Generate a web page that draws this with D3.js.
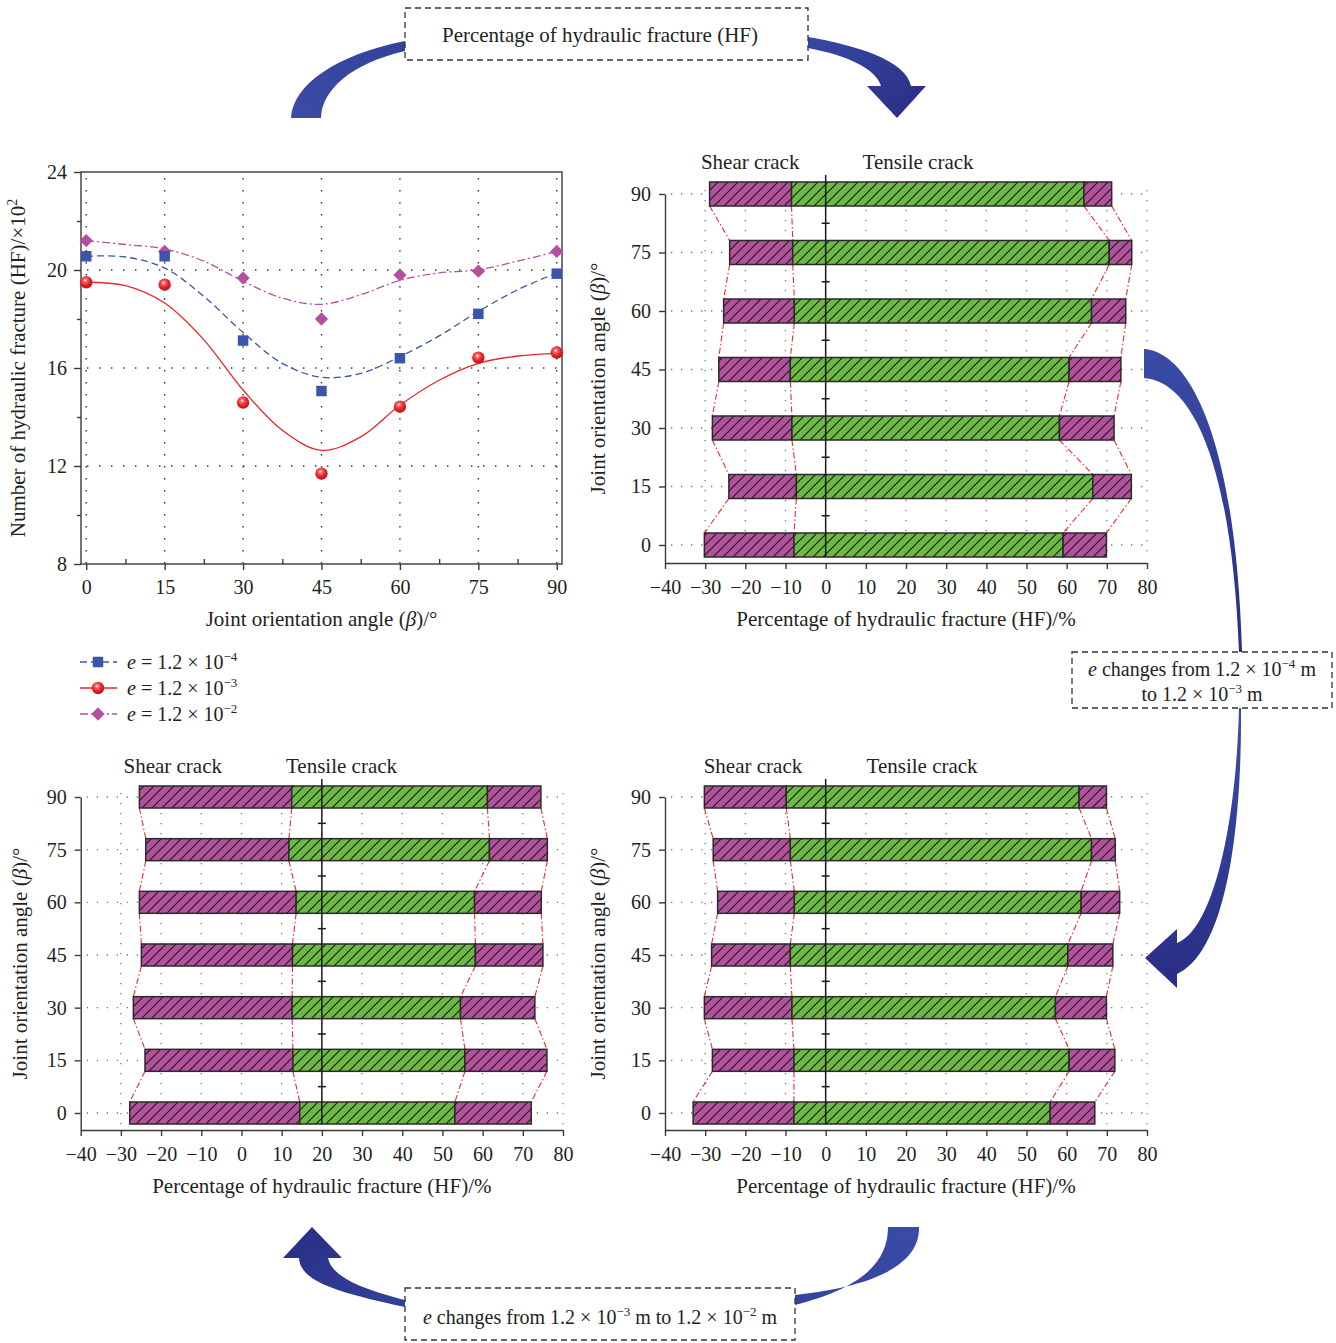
<!DOCTYPE html>
<html><head><meta charset="utf-8">
<script src="https://cdn.jsdelivr.net/npm/d3@7"></script>
<style>
body{margin:0;background:#fff}
svg{display:block}
text{font-family:"Liberation Serif","Times New Roman",serif;fill:#231f20}
</style>
</head><body>
<svg id="c" width="1336" height="1343"></svg>
<script>
// ---------------- DATA ----------------
const angles = [0, 15, 30, 45, 60, 75, 90];
const minorAngles = [7.5, 22.5, 37.5, 52.5, 67.5, 82.5];
const hfTicks = [8, 12, 16, 20, 24];
const hfMinorTicks = [10, 14, 18, 22];

// number of hydraulic fractures (x10^2), measured points
const hf_e4 = [20.56, 20.56, 17.12, 15.06, 16.40, 18.21, 19.85];
const hf_e3 = [19.50, 19.40, 14.59, 11.69, 14.42, 16.42, 16.63];
const hf_e2 = [21.20, 20.76, 19.67, 18.00, 19.80, 19.95, 20.76];

// fitted curves
const fitAngles = [0, 7.5, 15, 22.5, 30, 37.5, 45, 52.5, 60, 67.5, 75, 82.5, 90];
const fit_e4 = [20.56, 20.53, 20.08, 18.92, 17.45, 16.19, 15.62, 15.78, 16.46, 17.31, 18.31, 19.19, 19.88];
const fit_e3 = [19.50, 19.36, 18.65, 17.15, 15.10, 13.46, 12.64, 13.19, 14.48, 15.50, 16.19, 16.49, 16.60];
const fit_e2 = [21.20, 21.04, 20.86, 20.36, 19.54, 18.85, 18.60, 18.99, 19.58, 19.88, 20.01, 20.36, 20.76];

const legendLabels = [["e", " = 1.2 × 10", "−4"], ["e", " = 1.2 × 10", "−3"], ["e", " = 1.2 × 10", "−2"]];

// percentage bars (order = angles 0..90)
const pctTicks = [-40, -30, -20, -10, 0, 10, 20, 30, 40, 50, 60, 70, 80];

// e = 1.2e-4 (top right)
const A_shearStart = [-30.2, -24.1, -28.2, -26.6, -25.4, -23.9, -28.9];
const A_tensStart  = [-7.9, -7.3, -8.4, -8.8, -7.8, -8.2, -8.5];
const A_tensEnd    = [59.1, 66.5, 58.2, 60.6, 66.2, 70.6, 64.3];
const A_shearEnd   = [69.9, 76.1, 71.8, 73.5, 74.7, 76.2, 71.2];

// e = 1.2e-3 (bottom right)
const B_shearStart = [-33.0, -28.2, -30.2, -28.4, -26.9, -28.0, -30.2];
const B_tensStart  = [-7.9, -7.9, -8.4, -8.8, -7.8, -8.8, -9.8];
const B_tensEnd    = [55.9, 60.6, 57.2, 60.3, 63.6, 66.2, 63.1];
const B_shearEnd   = [67.0, 72.0, 69.9, 71.5, 73.2, 72.1, 69.9];

// e = 1.2e-2 (bottom left)
const C_shearStart = [-27.8, -24.0, -26.9, -24.9, -25.4, -23.8, -25.4];
const C_tensStart  = [14.5, 12.8, 12.6, 12.7, 13.6, 11.8, 12.5];
const C_tensEnd    = [53.1, 55.6, 54.5, 58.2, 58.0, 61.7, 61.2];
const C_shearEnd   = [72.1, 76.0, 73.0, 75.0, 74.6, 76.1, 74.5];

// ---------------- DRAW ----------------
const svg = d3.select("#c");
const defs = svg.append("defs");
const MAG = "#b3519d", GRN = "#6cb945", BLUE = "#3a56a8", RED = "#e8262b", PINK = "#b4509f";
const TICK_FS = 20, TITLE_FS = 21;

function hatch(id, color){
  const s = 10;
  const p = defs.append("pattern").attr("id", id).attr("patternUnits", "userSpaceOnUse")
    .attr("width", s).attr("height", s);
  p.append("rect").attr("width", s).attr("height", s).attr("fill", color);
  p.append("path").attr("d", `M-2,2 L2,-2 M0,${s} L${s},0 M${s - 2},${s + 2} L${s + 2},${s - 2}`)
    .attr("stroke", "#1a1a1a").attr("stroke-width", 1.15);
}
hatch("hMag", MAG); hatch("hGrn", GRN);

const rg = defs.append("radialGradient").attr("id", "ball").attr("cx", "0.42").attr("cy", "0.35").attr("r", "0.65");
rg.append("stop").attr("offset", "0").attr("stop-color", "#ffffff");
rg.append("stop").attr("offset", "0.22").attr("stop-color", "#f46a6a");
rg.append("stop").attr("offset", "0.6").attr("stop-color", "#e8202a");
rg.append("stop").attr("offset", "1").attr("stop-color", "#b8141a");

function grad(id, x1, y1, x2, y2, c1, c2){
  const g = defs.append("linearGradient").attr("id", id)
    .attr("x1", x1).attr("y1", y1).attr("x2", x2).attr("y2", y2);
  g.append("stop").attr("offset", "0").attr("stop-color", c1);
  g.append("stop").attr("offset", "1").attr("stop-color", c2);
}
grad("arTL", "0", "1", "1", "0", "#3a4ca6", "#34429c");
grad("arTR", "0", "0", "1", "1", "#3748a2", "#2a2d84");
grad("arR", "0", "0", "0", "1", "#3a4ca6", "#2a2d84");
grad("arBR", "1", "0", "0", "1", "#3a4ca6", "#3242a0");
grad("arBL", "1", "1", "0", "0", "#33419c", "#2a2d84");

// rich text helper: parts = [[text, kind]] kind: '', 'i', 'sup'
function rich(sel, parts, supSize){
  let up = false;
  parts.forEach(([t, k]) => {
    const ts = sel.append("tspan").text(t);
    if (k === "i") ts.attr("font-style", "italic");
    if (k === "sup") { ts.attr("font-size", supSize || 13).attr("dy", -8); up = true; }
    else if (up) { ts.attr("dy", 8); up = false; }
  });
  return sel;
}

// ---------- Top-left line chart ----------
(function(){
  const x = d3.scaleLinear().domain([-1, 91]).range([81, 562]);
  const y = d3.scaleLinear().domain([8, 24]).range([564, 172]);
  const g = svg.append("g");
  // grid
  angles.forEach(a => g.append("line").attr("x1", x(a)).attr("x2", x(a)).attr("y1", y(24) + 6).attr("y2", y(8))
    .attr("stroke", "#333").attr("stroke-width", 1.4).attr("stroke-dasharray", "1.4 10.6"));
  [12, 16, 20].forEach(v => g.append("line").attr("x1", x(-1) + 6).attr("x2", x(91)).attr("y1", y(v)).attr("y2", y(v))
    .attr("stroke", "#333").attr("stroke-width", 1.4).attr("stroke-dasharray", "1.4 10.6"));
  // frame
  g.append("rect").attr("x", x(-1)).attr("y", y(24)).attr("width", x(91) - x(-1)).attr("height", y(8) - y(24))
    .attr("fill", "none").attr("stroke", "#3a3a3a").attr("stroke-width", 1.4);
  // axes
  const ax = g.append("g").attr("transform", `translate(${x(-1)},0)`)
    .call(d3.axisLeft(y).tickValues(hfTicks).tickSize(7).tickSizeOuter(0).tickPadding(7));
  ax.select(".domain").remove();
  const axm = g.append("g").attr("transform", `translate(${x(-1)},0)`)
    .call(d3.axisLeft(y).tickValues(hfMinorTicks).tickSize(4).tickFormat(""));
  axm.select(".domain").remove();
  const bx = g.append("g").attr("transform", `translate(0,${y(8)})`)
    .call(d3.axisBottom(x).tickValues(angles).tickSize(6).tickSizeOuter(0).tickPadding(10));
  bx.select(".domain").remove();
  const bxm = g.append("g").attr("transform", `translate(0,${y(8)})`)
    .call(d3.axisBottom(x).tickValues(minorAngles).tickSize(-5).tickFormat(""));
  bxm.select(".domain").remove();
  g.selectAll(".tick line").attr("stroke", "#3a3a3a").attr("stroke-width", 1.4);
  g.selectAll(".tick text").attr("font-size", TICK_FS).attr("fill", "#231f20")
    .style("font-family", '"Liberation Serif",serif');

  // fitted curves
  const line = d3.line().x((d, i) => x(fitAngles[i])).y(d => y(d)).curve(d3.curveCatmullRom);
  g.append("path").attr("d", line(fit_e2)).attr("fill", "none").attr("stroke", PINK).attr("stroke-width", 1.3)
    .attr("stroke-dasharray", "8 3 2 3");
  g.append("path").attr("d", line(fit_e4)).attr("fill", "none").attr("stroke", BLUE).attr("stroke-width", 1.3)
    .attr("stroke-dasharray", "7 4");
  g.append("path").attr("d", line(fit_e3)).attr("fill", "none").attr("stroke", RED).attr("stroke-width", 1.3);

  // markers
  const sq = d3.symbol(d3.symbolSquare, 110);
  const dm = d3.symbol(d3.symbolSquare, 88);
  hf_e2.forEach((v, i) => g.append("path").attr("d", dm()).attr("fill", PINK)
    .attr("transform", `translate(${x(angles[i])},${y(v)}) rotate(45)`));
  hf_e4.forEach((v, i) => g.append("path").attr("d", sq()).attr("fill", BLUE)
    .attr("transform", `translate(${x(angles[i])},${y(v)})`));
  hf_e3.forEach((v, i) => g.append("circle").attr("cx", x(angles[i])).attr("cy", y(v)).attr("r", 6.2)
    .attr("fill", "url(#ball)"));

  // titles
  rich(g.append("text").attr("transform", `translate(25,${(y(8) + y(24)) / 2}) rotate(-90)`)
    .attr("text-anchor", "middle").attr("font-size", TITLE_FS),
    [["Number of hydraulic fracture (HF)/×10", ""], ["2", "sup"]], 14);
  rich(g.append("text").attr("x", (x(-1) + x(91)) / 2).attr("y", 626).attr("text-anchor", "middle").attr("font-size", TITLE_FS),
    [["Joint orientation angle (", ""], ["β", "i"], [")/°", ""]]);

  // legend
  const lg = svg.append("g");
  const ly = d3.scalePoint().domain([0, 1, 2]).range([662, 714]);
  const styles = [
    {c: BLUE, dash: "7 4", m: "sq"}, {c: RED, dash: null, m: "ball"}, {c: PINK, dash: "8 3 2 3", m: "dm"}];
  styles.forEach((s, i) => {
    const yy = ly(i);
    lg.append("line").attr("x1", 80).attr("x2", 117).attr("y1", yy).attr("y2", yy).attr("stroke", s.c)
      .attr("stroke-width", 1.3).attr("stroke-dasharray", s.dash);
    if (s.m === "sq") lg.append("path").attr("d", sq()).attr("fill", BLUE).attr("transform", `translate(98,${yy})`);
    if (s.m === "dm") lg.append("path").attr("d", dm()).attr("fill", PINK).attr("transform", `translate(98,${yy}) rotate(45)`);
    if (s.m === "ball") lg.append("circle").attr("cx", 98).attr("cy", yy).attr("r", 6.2).attr("fill", "url(#ball)");
    const L = legendLabels[i];
    rich(lg.append("text").attr("x", 127).attr("y", yy + 7).attr("font-size", 20),
      [[L[0], "i"], [L[1], ""], [L[2], "sup"]], 13);
  });
})();

// ---------- Bar panels ----------
function barPanel(cfg){
  const x = d3.scaleLinear().domain([-40, 80]).range([cfg.x0, cfg.x1]);
  const y = d3.scaleLinear().domain([0, 90]).range([cfg.yBot, cfg.yTop]);
  const h = cfg.barH;
  const g = svg.append("g");
  // grid
  angles.forEach(a => g.append("line").attr("x1", x(-40) + 6).attr("x2", x(80)).attr("y1", y(a)).attr("y2", y(a))
    .attr("stroke", "#777").attr("stroke-width", 1.3).attr("stroke-dasharray", "1.3 8.7"));
  pctTicks.filter(t => t > -40).forEach(t => g.append("line").attr("x1", x(t)).attr("x2", x(t))
    .attr("y1", y(90) - 4).attr("y2", cfg.axisY - 4)
    .attr("stroke", "#777").attr("stroke-width", 1.3).attr("stroke-dasharray", "1.3 8.7"));
  // axes
  const yAxScale = y.copy().domain([y.invert(cfg.axisY), 90]).range([cfg.axisY, y(90)]);
  g.append("g").attr("transform", `translate(${x(-40)},0)`)
    .call(d3.axisLeft(yAxScale).tickValues(angles).tickSize(6).tickSizeOuter(0).tickPadding(8));
  g.append("g").attr("transform", `translate(0,${cfg.axisY})`)
    .call(d3.axisBottom(x).tickValues(pctTicks).tickSize(6).tickSizeOuter(0).tickPadding(11));
  g.selectAll(".domain").attr("stroke", "#3a3a3a").attr("stroke-width", 1.4);
  g.selectAll(".tick line").attr("stroke", "#3a3a3a").attr("stroke-width", 1.4);
  g.selectAll(".tick text").attr("font-size", TICK_FS).attr("fill", "#231f20")
    .style("font-family", '"Liberation Serif",serif');

  // connector lines (dash-dot red) between bar corners
  const edges = [cfg.s0, cfg.t0, cfg.t1, cfg.s1];
  edges.forEach(arr => {
    for (let i = 0; i < angles.length - 1; i++) {
      g.append("line")
        .attr("x1", x(arr[i + 1])).attr("y1", y(angles[i + 1]) + h / 2)
        .attr("x2", x(arr[i])).attr("y2", y(angles[i]) - h / 2)
        .attr("stroke", "#ee2b30").attr("stroke-width", 1.1).attr("stroke-dasharray", "6 2.5 1.5 2.5");
    }
  });

  // bars
  angles.forEach((a, i) => {
    const segs = [[cfg.s0[i], cfg.t0[i], "hMag"], [cfg.t0[i], cfg.t1[i], "hGrn"], [cfg.t1[i], cfg.s1[i], "hMag"]];
    segs.forEach(([u, v, p]) => g.append("rect")
      .attr("x", x(u)).attr("y", y(a) - h / 2).attr("width", x(v) - x(u)).attr("height", h)
      .attr("fill", `url(#${p})`).attr("stroke", "#2a2a2a").attr("stroke-width", 1.5));
  });

  // zero line with minor ticks
  const zx = x(cfg.zero);
  g.append("line").attr("x1", zx).attr("x2", zx).attr("y1", y(90) - h / 2 - 7).attr("y2", y(0) + h / 2)
    .attr("stroke", "#1a1a1a").attr("stroke-width", 1.5);
  minorAngles.forEach(m => g.append("line").attr("x1", zx - 4).attr("x2", zx + 4).attr("y1", y(m)).attr("y2", y(m))
    .attr("stroke", "#1a1a1a").attr("stroke-width", 1.5));

  // labels
  g.append("text").attr("x", x(cfg.shearLab)).attr("y", y(90) - h / 2 - 13).attr("text-anchor", "middle")
    .attr("font-size", TITLE_FS).text("Shear crack");
  g.append("text").attr("x", x(cfg.tensLab)).attr("y", y(90) - h / 2 - 13).attr("text-anchor", "middle")
    .attr("font-size", TITLE_FS).text("Tensile crack");
  g.append("text").attr("x", (cfg.x0 + cfg.x1) / 2).attr("y", cfg.axisY + 63).attr("text-anchor", "middle")
    .attr("font-size", TITLE_FS).text("Percentage of hydraulic fracture (HF)/%");
  rich(g.append("text").attr("transform", `translate(${cfg.x0 - cfg.titleOff},${(y(90) + cfg.axisY) / 2}) rotate(-90)`)
    .attr("text-anchor", "middle").attr("font-size", TITLE_FS),
    [["Joint orientation angle (", ""], ["β", "i"], [")/°", ""]]);
}

barPanel({x0: 665, x1: 1147, yBot: 545, yTop: 194, axisY: 563, barH: 24, zero: 0, shearLab: -18.8, tensLab: 23,
  titleOff: 60, s0: A_shearStart, t0: A_tensStart, t1: A_tensEnd, s1: A_shearEnd});
barPanel({x0: 665, x1: 1147, yBot: 1113, yTop: 797, axisY: 1130, barH: 22, zero: 0, shearLab: -18.1, tensLab: 24,
  titleOff: 60, s0: B_shearStart, t0: B_tensStart, t1: B_tensEnd, s1: B_shearEnd});
barPanel({x0: 80.7, x1: 563, yBot: 1113, yTop: 797, axisY: 1130, barH: 22, zero: 20, shearLab: -17.1, tensLab: 24.9,
  titleOff: 54, s0: C_shearStart, t0: C_tensStart, t1: C_tensEnd, s1: C_shearEnd});

// ---------- Arrows (decorative) ----------
const ar = svg.append("g");
ar.append("path").attr("fill", "url(#arTL)")
  .attr("d", "M291,118 C293,85 335,55 405,41 L405,51 C350,64 322,90 321,118 Z");
ar.append("path").attr("fill", "url(#arTR)")
  .attr("d", "M808,37 C855,45 906,60 911,86 L926,86 L897,118 L867,86 L881,86 C876,68 845,55 808,48 Z");
ar.append("path").attr("fill", "url(#arR)")
  .attr("d", "M1144,349 C1190,352 1236,440 1242,652 L1239,652 C1232,470 1195,382 1144,378 Z");
ar.append("path").attr("fill", "url(#arR)")
  .attr("d", "M1241,708 C1242,830 1226,952 1177,974 L1177,988 L1145,958 L1177,929 L1177,943 C1212,930 1236,830 1239,708 Z");
ar.append("path").attr("fill", "url(#arBR)")
  .attr("d", "M919,1227 C920,1262 880,1286 795,1295 L795,1305 C862,1288 888,1262 888,1227 Z");
ar.append("path").attr("fill", "url(#arBL)")
  .attr("d", "M405,1307 C340,1293 300,1282 299,1258 L283,1258 L312,1227 L342,1258 L328,1258 C332,1279 370,1291 405,1300 Z");

// ---------- Dashed boxes ----------
function box(x, y, w, h){
  svg.append("rect").attr("x", x).attr("y", y).attr("width", w).attr("height", h)
    .attr("fill", "#fff").attr("stroke", "#333").attr("stroke-width", 1.3).attr("stroke-dasharray", "6 4");
}
box(405, 8, 403, 52);
svg.append("text").attr("x", 600).attr("y", 42).attr("text-anchor", "middle").attr("font-size", TITLE_FS)
  .text("Percentage of hydraulic fracture (HF)");
box(1072, 652, 260, 56);
rich(svg.append("text").attr("x", 1202).attr("y", 676).attr("text-anchor", "middle").attr("font-size", 20),
  [["e", "i"], [" changes from 1.2 × 10", ""], ["−4", "sup"], [" m", ""]], 13);
rich(svg.append("text").attr("x", 1202).attr("y", 701).attr("text-anchor", "middle").attr("font-size", 20),
  [["to 1.2 × 10", ""], ["−3", "sup"], [" m", ""]], 13);
box(405, 1288, 390, 52);
rich(svg.append("text").attr("x", 600).attr("y", 1324).attr("text-anchor", "middle").attr("font-size", 20),
  [["e", "i"], [" changes from 1.2 × 10", ""], ["−3", "sup"], [" m to 1.2 × 10", ""], ["−2", "sup"], [" m", ""]], 13);
</script>
</body></html>
